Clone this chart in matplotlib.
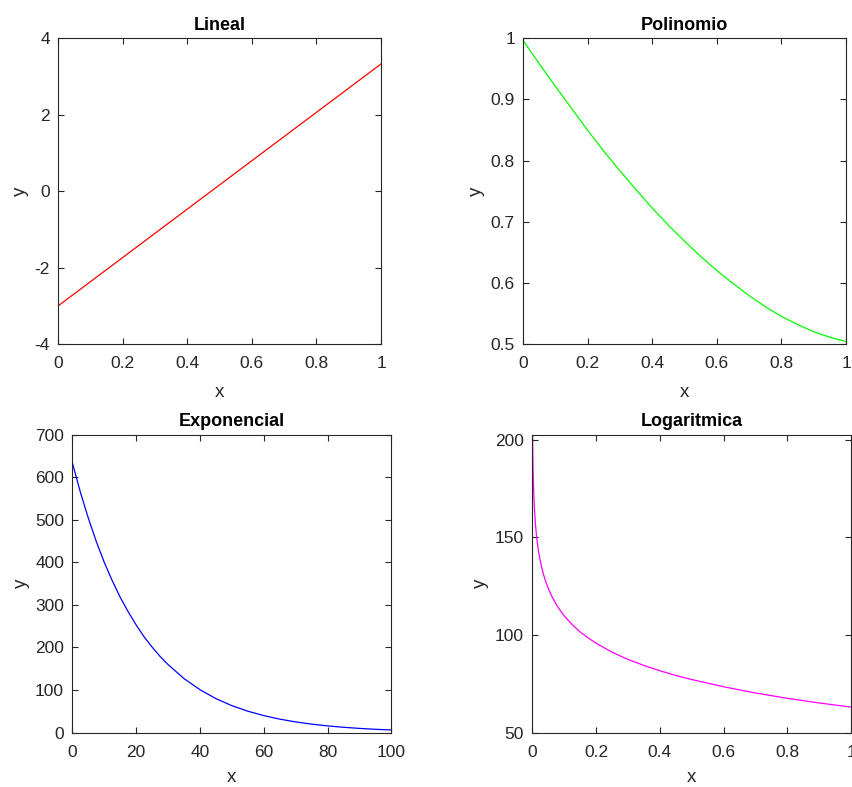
import numpy as np
import matplotlib.pyplot as plt

plt.rcParams['font.family'] = ['Liberation Sans', 'DejaVu Sans']
plt.rcParams['axes.unicode_minus'] = False

# Lineal
lin_x = [0.0, 1.0]
lin_y = [-3.0, 3.33]

# Polinomio
poly_x = [0.0, 0.05, 0.1, 0.15, 0.2, 0.25, 0.3, 0.35, 0.4, 0.45, 0.5,
          0.55, 0.6, 0.65, 0.7, 0.75, 0.8, 0.85, 0.9, 0.95, 1.0]
poly_y = [0.996, 0.958, 0.921, 0.885, 0.849, 0.815, 0.783, 0.752, 0.722, 0.694, 0.668,
          0.643, 0.620, 0.599, 0.579, 0.561, 0.545, 0.532, 0.520, 0.511, 0.504]

# Exponencial
exp_x = [0, 2.5, 5, 7.5, 10, 12.5, 15, 17.5, 20, 22.5, 25, 27.5, 30, 35, 40, 45, 50,
         55, 60, 65, 70, 75, 80, 85, 90, 95, 100]
exp_y = [634, 565, 504, 449, 400, 357, 318, 284, 253, 225, 201, 179, 160, 127, 101, 80, 63.5,
         50.5, 40.1, 31.9, 25.3, 20.1, 16.0, 12.7, 10.1, 8.0, 6.4]

# Logaritmica
log_x = [0.001, 0.0015, 0.002, 0.003, 0.005, 0.007, 0.01, 0.0125, 0.015, 0.02, 0.025,
         0.03, 0.035, 0.04, 0.05, 0.06, 0.075, 0.09, 0.1, 0.125, 0.15, 0.175, 0.2,
         0.25, 0.3, 0.35, 0.4, 0.45, 0.5, 0.6, 0.7, 0.8, 0.9, 1.0]
log_y = [202.6, 195.1, 189.3, 181.0, 170.7, 163.8, 156.6, 152.1, 148.4, 142.5, 138.0,
         134.3, 131.1, 128.4, 123.9, 120.2, 115.7, 112.0, 109.8, 105.3, 101.6, 98.5, 95.8,
         91.2, 87.5, 84.4, 81.7, 79.3, 77.2, 73.5, 70.3, 67.6, 65.2, 63.1]

axis_col = '#262626'

fig = plt.figure(figsize=(8.53, 7.87), dpi=100)
positions = [
    [0.0683, 0.5629, 0.3784, 0.3884],
    [0.6135, 0.5629, 0.3783, 0.3884],
    [0.0848, 0.0690, 0.3740, 0.3789],
    [0.6240, 0.0690, 0.3740, 0.3789],
]
panels = [
    ('Lineal', lin_x, lin_y, '#ff0000', (0, 1), (-4, 4), [-4, -2, 0, 2, 4]),
    ('Polinomio', poly_x, poly_y, '#00ff00', (0, 1), (0.5, 1), [0.5, 0.6, 0.7, 0.8, 0.9, 1]),
    ('Exponencial', exp_x, exp_y, '#0000ff', (0, 100), (0, 700), list(range(0, 701, 100))),
    ('Logaritmica', log_x, log_y, '#ff00ff', (0, 1), (50, max(log_y)), [50, 100, 150, 200]),
]

for i, (pos, (title, x, y, col, xl, yl, yt)) in enumerate(zip(positions, panels)):
    ax = fig.add_axes(pos)
    ax.plot(x, y, color=col, linewidth=0.9)
    ax.set_xlim(xl)
    ax.set_ylim(yl)
    ax.set_yticks(yt)
    if xl[1] == 1:
        ax.set_xticks([0, 0.2, 0.4, 0.6, 0.8, 1])
        ax.set_xticklabels(['0', '0.2', '0.4', '0.6', '0.8', '1'])
    else:
        ax.set_xticks([0, 20, 40, 60, 80, 100])
    if title == 'Polinomio':
        ax.set_yticklabels(['0.5', '0.6', '0.7', '0.8', '0.9', '1'])
    ax.tick_params(direction='in', top=True, right=True, length=4, width=0.8,
                   colors=axis_col, labelsize=12.5)
    ax.tick_params(axis='x', pad=9)
    ax.tick_params(axis='y', pad=6)
    for s in ax.spines.values():
        s.set_color(axis_col)
        s.set_linewidth(0.8)
    ax.set_title(title, fontsize=13, fontweight='bold', pad=6)
    ax.set_xlabel('x', fontsize=13.5, color=axis_col, labelpad=9 if i < 2 else 6)
    ax.set_ylabel('y', fontsize=13.5, color=axis_col, labelpad=4)

fig.savefig('out.png', dpi=100)
